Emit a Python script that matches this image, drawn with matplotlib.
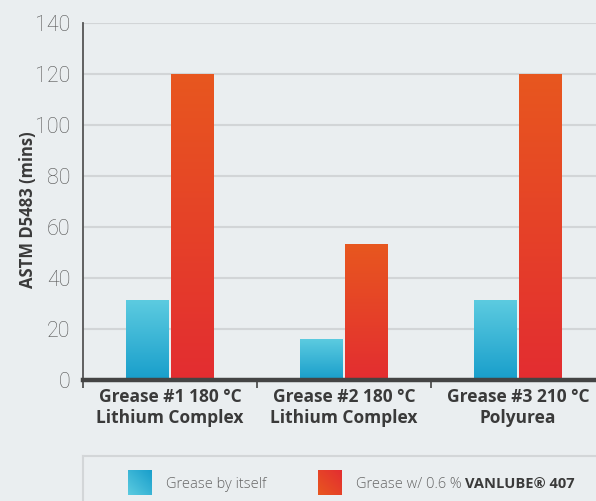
import numpy as np
import matplotlib
matplotlib.use("Agg")
import matplotlib.pyplot as plt
from matplotlib.colors import LinearSegmentedColormap
from matplotlib.ticker import FixedLocator

categories = ["Grease #1 180 °C\nLithium Complex",
              "Grease #2 180 °C\nLithium Complex",
              "Grease #3 210 °C\nPolyurea"]
grease_alone = [31, 16, 31]
grease_vanlube = [120, 53, 120]
yticks = [0, 20, 40, 60, 80, 100, 120, 140]
ylabel = "ASTM D5483 (mins)"

BG = "#eaeef0"
blue_top, blue_bot = "#5ccbe0", "#189ecb"
red_top, red_bot = "#e8571f", "#e32d31"

fig = plt.figure(figsize=(5.96, 5.01), dpi=100, facecolor=BG)
W, H = 596, 501
ax = fig.add_axes([83 / W, (H - 380) / H, 522 / W, 357 / H], facecolor=BG)

x = np.arange(len(categories))
bw = 0.247
off = 0.131
bars1 = ax.bar(x - off, grease_alone, bw, color="none", zorder=3)
bars2 = ax.bar(x + off, grease_vanlube, bw, color="none", zorder=3)

def grad_fill(bars, top, bot):
    cmap = LinearSegmentedColormap.from_list("g", [bot, top])
    g = np.linspace(0, 1, 256).reshape(-1, 1)
    for b in bars:
        x0, y0, w, h = b.get_x(), b.get_y(), b.get_width(), b.get_height()
        ax.imshow(g, cmap=cmap, origin="lower", aspect="auto",
                  extent=(x0, x0 + w, y0, y0 + h), zorder=3,
                  interpolation="bilinear")

grad_fill(bars1, blue_top, blue_bot)
grad_fill(bars2, red_top, red_bot)

ax.set_xlim(-0.5, 2.5)
ax.set_ylim(0, 140)
ax.set_yticks(yticks)
ax.set_yticklabels([str(v) for v in yticks], family="Roboto", fontweight="light",
                   fontsize=15.5, color="#555555")
ax.tick_params(axis="y", length=0, pad=9)
ax.set_xticks(x)
ax.set_xticklabels(categories, family="Open Sans", fontweight="bold",
                   fontsize=12.5, color="#3a3a3a", linespacing=1.2)
ax.tick_params(axis="x", which="major", length=0, pad=6)
ax.xaxis.set_minor_locator(FixedLocator([-0.5, 0.5, 1.5]))
ax.tick_params(axis="x", which="minor", length=6, width=1.2,
               color="#444444", direction="out")

ax.grid(axis="y", color="#d2d5d7", linewidth=1.5, zorder=0)
ax.set_axisbelow(True)
for s in ["top", "right"]:
    ax.spines[s].set_visible(False)
ax.spines["bottom"].set_linewidth(3.2)
ax.spines["bottom"].set_color("#444444")
ax.spines["bottom"].set_zorder(4)
ax.spines["left"].set_linewidth(1.3)
ax.spines["left"].set_color("#555555")

ax.set_ylabel(ylabel, family="Open Sans", fontweight="bold", fontsize=12,
              color="#3a3a3a")
ax.yaxis.set_label_coords((37 - 83) / 522, (380 - 210) / 357)

# legend panel
lax = fig.add_axes([83 / W, -0.05, 1, (H - 456) / H + 0.05], facecolor=BG)
lax.set_xticks([])
lax.set_yticks([])
for s in lax.spines.values():
    s.set_color("#d3d6d8")
    s.set_linewidth(1.5)

def diag(c1, c2):
    cmap = LinearSegmentedColormap.from_list("d", [c1, c2])
    u = np.linspace(0, 1, 64)
    X, Y = np.meshgrid(u, u)
    return cmap((X + Y) / 2)

lax.imshow(diag(blue_top, blue_bot)[::-1], extent=(128, 152, 495, 470),
           aspect="auto", interpolation="bilinear")
lax.imshow(diag(red_top, red_bot)[::-1], extent=(318, 342, 495, 470),
           aspect="auto", interpolation="bilinear")
lax.set_xlim(83, 83 + W)
lax.set_ylim(H + 0.05 * H, 456)
lax.text(166, 488, "Grease by itself", family="Open Sans", fontweight="light",
         fontsize=10.5, color="#666666", va="baseline", ha="left")
t1 = lax.text(356, 488, "Grease w/ 0.6 % ", family="Open Sans", fontweight="light",
              fontsize=10.5, color="#666666", va="baseline", ha="left")
fig.canvas.draw()
bb = t1.get_window_extent()
x_end = lax.transData.inverted().transform((bb.x1, bb.y0))[0]
lax.text(x_end, 488, "VANLUBE® 407", family="Open Sans", fontweight="bold",
         fontsize=10.5, color="#3a3a3a", va="baseline", ha="left")

fig.savefig("out.png", dpi=100, facecolor=BG)
